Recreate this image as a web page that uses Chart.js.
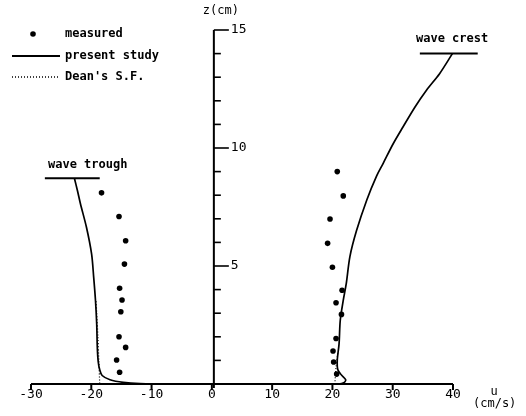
<!DOCTYPE html>
<html>
<head>
<meta charset="utf-8">
<script src="https://cdn.jsdelivr.net/npm/chart.js@4.4.1/dist/chart.umd.min.js"></script>
<style>
  html, body { margin: 0; padding: 0; background: #fff; }
  canvas { display: block; }
</style>
</head>
<body>
<canvas id="profileChart" width="526" height="416"></canvas>
<script>
// axis ticks
var uTicks = [-30, -20, -10, 0, 10, 20, 30, 40];
var zTicks = [5, 10, 15];

// measured velocities (trough side, then crest side)
var measuredU = [-18.3, -15.4, -14.3, -14.5, -15.3, -14.9, -15.1, -15.4, -14.3, -15.8, -15.3,
                 20.8, 21.8, 19.6, 19.2, 20.0, 21.6, 20.6, 21.5, 20.6, 20.1, 20.2, 20.7];
var measuredZ = [8.1, 7.1, 6.07, 5.08, 4.06, 3.56, 3.06, 2.0, 1.55, 1.02, 0.5,
                 9.0, 7.97, 6.99, 5.96, 4.95, 3.97, 3.44, 2.95, 1.93, 1.4, 0.93, 0.42];

// present study, under the wave trough
var presentTroughU = [-22.8, -22.3, -21.8, -20.8, -19.95, -19.6, -19.3, -19.1, -19.0, -18.85, -18.6, -18.2, -16.9, -14.7, -11.9, -6, 0];
var presentTroughZ = [8.72, 8.2, 7.64, 6.64, 5.51, 4.52, 3.53, 2.54, 1.54, 0.95, 0.6, 0.36, 0.18, 0.07, 0.02, 0, 0];

// present study, under the wave crest
var presentCrestU = [39.9, 37.8, 35.6, 33.7, 31.7, 30.1, 28.4, 27.3, 25.7, 24.0, 22.9, 22.3, 21.8, 21.3, 21.1, 20.8, 20.9, 21.5, 22.2, 21.9, 21.0, 0];
var presentCrestZ = [14.0, 13.16, 12.45, 11.74, 10.89, 10.19, 9.34, 8.8, 7.8, 6.5, 5.4, 4.26, 3.55, 2.7, 1.7, 1.0, 0.6, 0.38, 0.18, 0.05, 0, 0];

// Dean's stream function
var deanTroughU = [-19.2, -19.1, -18.9, -18.75, -18.6];
var deanTroughZ = [3.5, 3.0, 2.0, 1.0, 0];
var deanCrestU = [20.9, 20.6, 20.4];
var deanCrestZ = [1.3, 0.7, 0];

// still levels of trough and crest
var troughLevelU = [-27.7, -18.6];
var troughLevelZ = 8.72;
var crestLevelU = [34.5, 44.1];
var crestLevelZ = 14.0;

function pts(us, zs) {
    return us.map(function (u, i) { return { x: u, y: zs[i] }; });
}
function level(us, z) {
    return us.map(function (u) { return { x: u, y: z }; });
}

var MONO = '"DejaVu Sans Mono", monospace';

var axesPlugin = {
    id: 'axesPlugin',
    afterDraw: function (chart) {
        var ctx = chart.ctx;
        var xs = chart.scales.x, ys = chart.scales.y;
        var x0 = xs.getPixelForValue(0);
        var yb = ys.getPixelForValue(0);
        ctx.save();
        ctx.strokeStyle = '#000';
        ctx.fillStyle = '#000';
        ctx.lineWidth = 2;

        // u axis
        ctx.beginPath();
        ctx.moveTo(xs.getPixelForValue(uTicks[0]), yb);
        ctx.lineTo(xs.getPixelForValue(uTicks[uTicks.length - 1]), yb);
        ctx.stroke();
        ctx.font = '13px ' + MONO;
        ctx.textAlign = 'center';
        ctx.textBaseline = 'middle';
        uTicks.forEach(function (v) {
            var px = xs.getPixelForValue(v);
            ctx.beginPath();
            ctx.moveTo(px, yb);
            ctx.lineTo(px, yb + 6);
            ctx.stroke();
            ctx.fillText(String(v), px, yb + 11);
        });

        // z axis
        var yTop = ys.getPixelForValue(15);
        ctx.beginPath();
        ctx.moveTo(x0 + 2, yb + 4);
        ctx.lineTo(x0 + 2, yTop);
        ctx.stroke();
        ctx.lineWidth = 1.6;
        for (var z = 1; z <= 15; z++) {
            var py = ys.getPixelForValue(z);
            var major = zTicks.indexOf(z) >= 0;
            ctx.beginPath();
            ctx.moveTo(x0 + 2, py);
            ctx.lineTo(x0 + (major ? 17 : 9), py);
            ctx.stroke();
        }
        ctx.textAlign = 'left';
        zTicks.forEach(function (v) {
            ctx.fillText(String(v), x0 + 19, ys.getPixelForValue(v));
        });

        // axis titles
        ctx.font = '12px ' + MONO;
        ctx.fillText('z(cm)', x0 - 9, 11);
        ctx.textAlign = 'center';
        ctx.fillText('u', 494, 392);
        ctx.textAlign = 'left';
        ctx.fillText('(cm/s)', 473, 404);

        // level labels
        ctx.font = 'bold 12px ' + MONO;
        ctx.fillText('wave trough', 48, 165);
        ctx.fillText('wave crest', 416, 39);

        // legend
        ctx.beginPath();
        ctx.arc(33, 34, 2.8, 0, Math.PI * 2);
        ctx.fill();
        ctx.fillText('measured', 65, 34);
        ctx.lineWidth = 1.8;
        ctx.beginPath();
        ctx.moveTo(12, 56);
        ctx.lineTo(60, 56);
        ctx.stroke();
        ctx.fillText('present study', 65, 56);
        ctx.lineWidth = 1.3;
        ctx.setLineDash([1, 2]);
        ctx.beginPath();
        ctx.moveTo(12, 77);
        ctx.lineTo(60, 77);
        ctx.stroke();
        ctx.setLineDash([]);
        ctx.fillText("Dean's S.F.", 65, 77);
        ctx.restore();
    }
};

var lineBase = {
    showLine: true,
    pointRadius: 0,
    borderColor: '#000',
    backgroundColor: '#000',
    borderWidth: 1.7,
    tension: 0.3,
    clip: false
};

new Chart(document.getElementById('profileChart'), {
    type: 'scatter',
    data: {
        datasets: [
            Object.assign({}, lineBase, { label: 'present study', data: pts(presentTroughU, presentTroughZ) }),
            Object.assign({}, lineBase, { label: 'present study', data: pts(presentCrestU, presentCrestZ) }),
            Object.assign({}, lineBase, { label: "Dean's S.F.", data: pts(deanTroughU, deanTroughZ), borderWidth: 1.2, borderDash: [1, 2] }),
            Object.assign({}, lineBase, { label: "Dean's S.F.", data: pts(deanCrestU, deanCrestZ), borderWidth: 1.2, borderDash: [1, 2] }),
            Object.assign({}, lineBase, { label: 'wave trough', data: level(troughLevelU, troughLevelZ), borderWidth: 2, tension: 0 }),
            Object.assign({}, lineBase, { label: 'wave crest', data: level(crestLevelU, crestLevelZ), borderWidth: 2, tension: 0 }),
            {
                label: 'measured',
                data: pts(measuredU, measuredZ),
                showLine: false,
                pointRadius: 2.8,
                pointBorderWidth: 0,
                backgroundColor: '#000',
                borderColor: '#000',
                clip: false
            }
        ]
    },
    options: {
        responsive: false,
        animation: false,
        layout: { padding: { left: 31, right: 73, top: 30, bottom: 32 } },
        plugins: { legend: { display: false }, tooltip: { enabled: false } },
        scales: {
            x: { type: 'linear', min: -30, max: 40, display: false },
            y: { type: 'linear', min: 0, max: 15, display: false }
        }
    },
    plugins: [axesPlugin]
});
</script>
</body>
</html>
